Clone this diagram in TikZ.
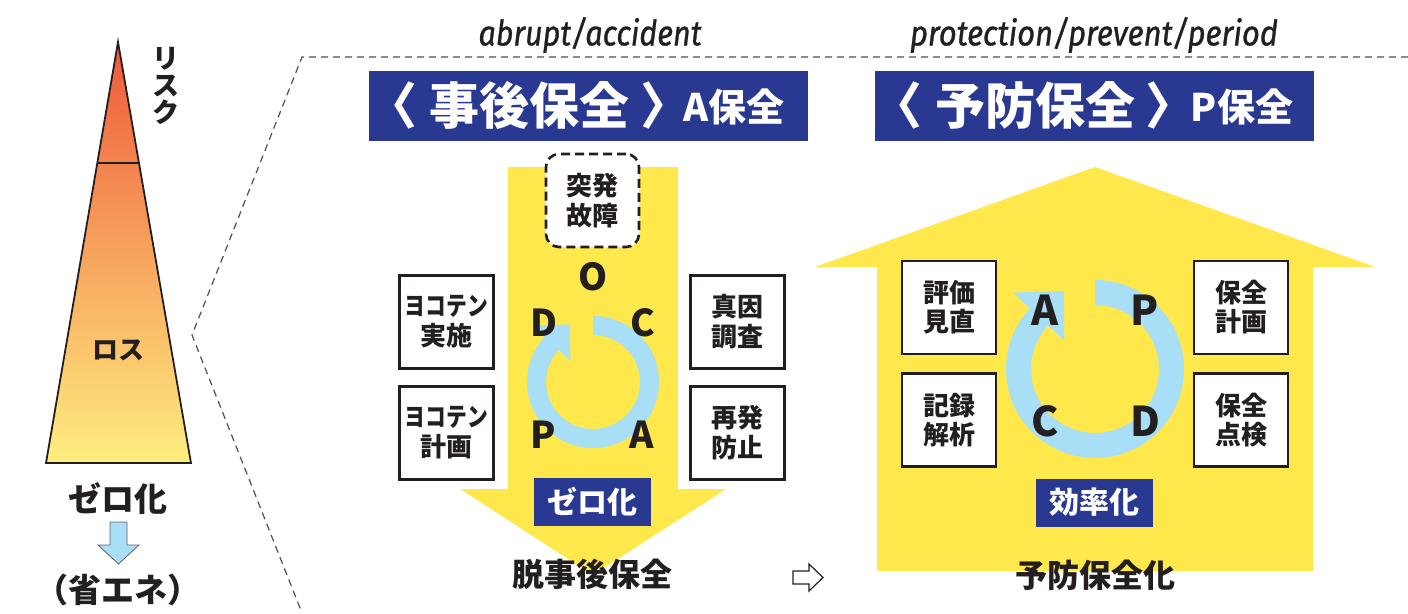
\documentclass[tikz,border=0pt]{standalone}
\usepackage{fontspec}
\usepackage{graphicx}
\setmainfont{Noto Sans CJK JP}
\newfontfamily\latinit{Fira Sans}[FakeBold=1]
\newcommand\jfs[2]{\fontsize{#1}{#2}\selectfont}
\definecolor{ayellow}{RGB}{255,232,76}
\definecolor{ringblue}{RGB}{168,223,247}
\definecolor{navy}{RGB}{41,57,145}
\definecolor{inkc}{RGB}{35,31,32}
\definecolor{dashc}{RGB}{80,80,80}
\definecolor{triTop}{RGB}{238,88,58}
\definecolor{triMid}{RGB}{246,162,94}
\definecolor{triBot}{RGB}{255,238,128}
\begin{document}
\begin{tikzpicture}[x=1pt,y=-1pt,
  kbox/.style={draw=inkc,line width=2.5pt,fill=white,minimum width=94pt,minimum height=93pt,inner sep=0pt,align=center,text=inkc,font=\bfseries\jfs{26}{30}},
  kboxr/.style={kbox,font=\bfseries\jfs{26}{29}},
  pdca/.style={inner sep=0pt,text=inkc,font=\bfseries\jfs{37}{37}},
  pdcab/.style={inner sep=0pt,text=inkc,font=\bfseries\jfs{41}{41}},
  navylbl/.style={fill=navy,text=white,minimum width=117pt,minimum height=48pt,inner sep=0pt,font=\bfseries\jfs{30}{30}},
  banner/.style={fill=navy,minimum width=439pt,minimum height=70pt,inner sep=0pt},
  btext/.style={text=white,inner sep=0pt,font=\bfseries\jfs{50}{50}},
  bbrack/.style={text=white,inner sep=0pt,font=\bfseries\jfs{50}{50}},
  bsmall/.style={text=white,inner sep=0pt,font=\bfseries\jfs{38}{38}},
  dashline/.style={draw=dashc,line width=1.2pt,dash pattern=on 7pt off 5pt},
  heading/.style={text=inkc,inner sep=0pt,font=\latinit\itshape\jfs{35}{35}},
  bottomtxt/.style={text=inkc,inner sep=0pt,font=\bfseries\jfs{32}{32}},
  tritxt/.style={text=inkc,inner sep=0pt,align=center}
]
\useasboundingbox (0,0) rectangle (1408,613);

% dashed guide lines
\coordinate (dR) at (1408,57);
\coordinate (dT) at (302,57);
\coordinate (dV) at (192,335);
\coordinate (dB) at (302,613);
\draw[dashline] (dR) -- (dT) -- (dV) -- (dB);

% triangle
\coordinate (tA) at (118,42);
\coordinate (tL) at (46,463);
\coordinate (tR) at (191,463);
\shade[top color=triTop, middle color=triMid, bottom color=triBot] (tA) -- (tR) -- (tL) -- cycle;
\draw[inkc,line width=1.8pt,line join=miter] (tA) -- (tR) -- (tL) -- cycle;
\draw[inkc,line width=1.6pt] (97.2,163) -- (138.8,163);
\node[tritxt,font=\bfseries\jfs{27}{27}] (risk) at (166,86) {リ\\ス\\ク};
\node[tritxt,font=\bfseries\jfs{26}{26}] (loss) at (118,350) {ロス};
\node[tritxt,font=\bfseries\jfs{33}{33}] (zero) at (118,499) {ゼロ化};
\node[tritxt,font=\bfseries\jfs{33}{33}] (shoene) at (118,590) {（省エネ）};
\draw[draw=inkc!70,line width=0.8pt,fill=ringblue] (110,522) -- (127,522) -- (127,545) -- (139,545) -- (118.5,564) -- (98,545) -- (110,545) -- cycle;

% headings
\node[heading] (h1) at (590,35) {\resizebox{223pt}{\height}{abrupt/accident}};
\node[heading] (h2) at (1094,35) {\resizebox{368pt}{\height}{protection/prevent/period}};

% banners
\node[banner] (bannerA) at (588.5,106) {};
\node[banner] (bannerP) at (1094,106) {};
\node[bbrack] (bA1) at (392,105) {〈};
\node[btext] (bA2) at (529,105) {事後保全};
\node[bbrack] (bA3) at (665,105) {〉};
\node[bsmall] (bA4) at (734,106.5) {A保全};
\node[bbrack] (bP1) at (897,105) {〈};
\node[btext] (bP2) at (1035,105) {予防保全};
\node[bbrack] (bP3) at (1170,105) {〉};
\node[bsmall] (bP4) at (1242,106.5) {P保全};

% left yellow arrow
\fill[ayellow] (508,167) -- (678,167) -- (678,489) -- (726,489) -- (593,575) -- (460,489) -- (508,489) -- cycle;
% right yellow house
\fill[ayellow] (877,571) -- (877,267) -- (815,267) -- (1095,167) -- (1375,267) -- (1313,267) -- (1313,571) -- cycle;

% sudden failure box
\node[draw=inkc,line width=2.6pt,dash pattern=on 9pt off 5pt,rounded corners=13pt,fill=white,minimum width=93pt,minimum height=93pt,inner sep=0pt,align=center,text=inkc,font=\bfseries\jfs{26}{30}] (fail) at (592.5,200.5) {突発\\故障};

% left boxes
\node[kbox] (yj) at (446.5,322) {\scalebox{0.8}[1]{ヨコテン}\\実施};
\node[kbox] (yk) at (446.5,433) {\scalebox{0.8}[1]{ヨコテン}\\計画};
\node[kbox] (sc) at (737.5,322) {真因\\調査};
\node[kbox] (sb) at (737.5,433) {再発\\防止};

% right boxes
\node[kboxr] (hm) at (949,307.5) {評価\\見直};
\node[kboxr] (kk) at (949,420) {記録\\解析};
\node[kboxr] (hk) at (1241,307.5) {保全\\計画};
\node[kboxr] (ht) at (1241,420) {保全\\点検};

% rings
\begin{scope}[shift={(593,382)},yscale=-1]
\fill[ringblue] (90:66) arc[start angle=90,end angle=-223,radius=66] -- (137:83) -- (111.7:62) -- (137:31) -- (137:47) arc[start angle=137,end angle=450,radius=47] -- cycle;
\end{scope}
\begin{scope}[shift={(1095,369)},yscale=-1]
\fill[ringblue] (90:89) arc[start angle=90,end angle=-223,radius=89] -- (137:112) -- (111.7:84) -- (137:42) -- (137:64) arc[start angle=137,end angle=450,radius=64] -- cycle;
\end{scope}

% letters left
\node[pdca] (lO) at (593,277) {O};
\node[pdca] (lD) at (544,323) {D};
\node[pdca] (lC) at (643,323) {C};
\node[pdca] (lP) at (543,435) {P};
\node[pdca] (lA) at (642,435) {A};
% letters right
\node[pdcab] (rA) at (1045,310) {A};
\node[pdcab] (rP) at (1145,310) {P};
\node[pdcab] (rC) at (1045,421) {C};
\node[pdcab] (rD) at (1145,421) {D};

% labels
\node[navylbl] (zl) at (592.5,502) {ゼロ化};
\node[navylbl] (kl) at (1094.5,502.5) {効率化};
\node[bottomtxt] (bl) at (592.5,574) {脱事後保全};
\node[bottomtxt] (br) at (1095,575) {予防保全化};

% outline arrow
\draw[inkc,line width=1.2pt,fill=white,line join=miter] (793,571) -- (809,571) -- (809,564) -- (823,577.5) -- (809,591) -- (809,584) -- (793,584) -- cycle;
\end{tikzpicture}
\end{document}
